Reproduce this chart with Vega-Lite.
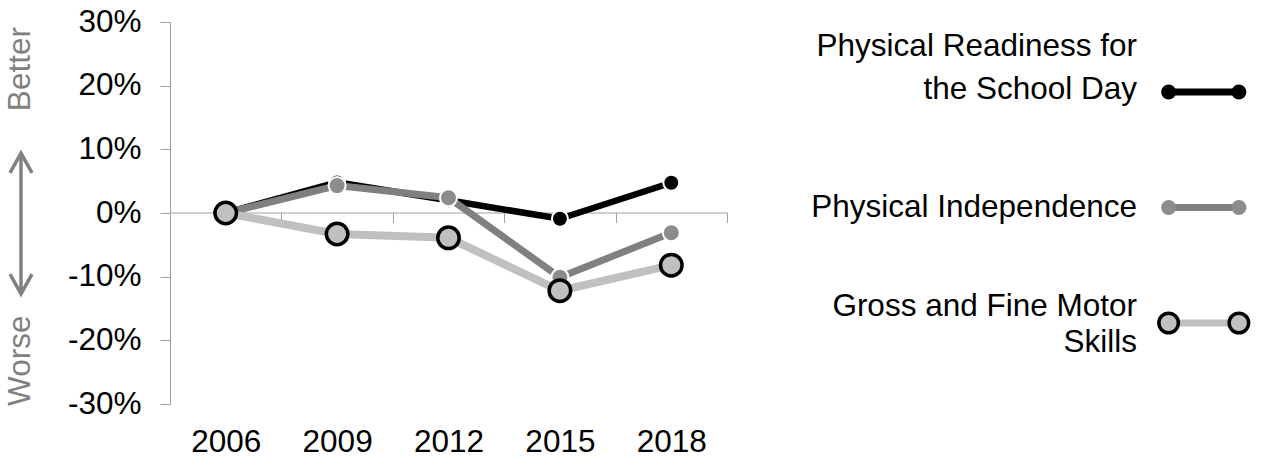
{
  "$schema": "https://vega.github.io/schema/vega-lite/v6.json",
  "background": "white",
  "padding": {"left": 0, "top": 6, "right": 0, "bottom": 0},
  "bounds": "flush",
  "spacing": 20,
  "config": {
    "view": {"stroke": null},
    "font": "Liberation Sans",
    "text": {"font": "Liberation Sans"}
  },
  "datasets": {
    "series": [
      {"series": "Physical Readiness for the School Day", "year": 2006, "value": 0},
      {"series": "Physical Readiness for the School Day", "year": 2009, "value": 4.8},
      {"series": "Physical Readiness for the School Day", "year": 2012, "value": 2.0},
      {"series": "Physical Readiness for the School Day", "year": 2015, "value": -0.9},
      {"series": "Physical Readiness for the School Day", "year": 2018, "value": 4.75},
      {"series": "Physical Independence", "year": 2006, "value": 0},
      {"series": "Physical Independence", "year": 2009, "value": 4.3},
      {"series": "Physical Independence", "year": 2012, "value": 2.4},
      {"series": "Physical Independence", "year": 2015, "value": -10.1},
      {"series": "Physical Independence", "year": 2018, "value": -3.1},
      {"series": "Gross and Fine Motor Skills", "year": 2006, "value": 0},
      {"series": "Gross and Fine Motor Skills", "year": 2009, "value": -3.3},
      {"series": "Gross and Fine Motor Skills", "year": 2012, "value": -3.9},
      {"series": "Gross and Fine Motor Skills", "year": 2015, "value": -12.2},
      {"series": "Gross and Fine Motor Skills", "year": 2018, "value": -8.2}
    ],
    "legend": [
      {"series": "Physical Readiness for the School Day", "label": "Physical Readiness for\nthe School Day", "end": 0},
      {"series": "Physical Readiness for the School Day", "label": "Physical Readiness for\nthe School Day", "end": 1},
      {"series": "Physical Independence", "label": "Physical Independence", "end": 0},
      {"series": "Physical Independence", "label": "Physical Independence", "end": 1},
      {"series": "Gross and Fine Motor Skills", "label": "Gross and Fine Motor\nSkills", "end": 0},
      {"series": "Gross and Fine Motor Skills", "label": "Gross and Fine Motor\nSkills", "end": 1}
    ],
    "notes": [
      {"note": "Better", "level": 22.6},
      {"note": "Worse", "level": -23.2}
    ],
    "arrow": [
      {"top": 9.4, "bottom": -12.7}
    ]
  },
  "hconcat": [
    {
      "width": 150,
      "height": 382,
      "layer": [
        {
          "data": {"name": "notes"},
          "mark": {"type": "text", "angle": 270, "fontSize": 31.5, "color": "#808080", "align": "center", "baseline": "middle"},
          "encoding": {
            "x": {"datum": 0.14, "type": "quantitative", "scale": {"domain": [0, 1]}, "axis": null},
            "y": {"field": "level", "type": "quantitative", "scale": {"domain": [-30, 30], "nice": false, "zero": false}, "axis": null},
            "text": {"field": "note"}
          }
        },
        {
          "data": {"name": "arrow"},
          "mark": {"type": "rule", "color": "#808080", "strokeWidth": 3.5},
          "encoding": {
            "x": {"datum": 0.14, "type": "quantitative"},
            "y": {"field": "top", "type": "quantitative"},
            "y2": {"field": "bottom"}
          }
        },
        {
          "data": {"name": "arrow"},
          "mark": {"type": "point", "shape": "M -1 1.8 L 0 0 L 1 1.8", "filled": false, "stroke": "#808080", "strokeWidth": 3.5, "size": 484, "opacity": 1},
          "encoding": {
            "x": {"datum": 0.14, "type": "quantitative"},
            "y": {"field": "top", "type": "quantitative"}
          }
        },
        {
          "data": {"name": "arrow"},
          "mark": {"type": "point", "shape": "M -1 -1.8 L 0 0 L 1 -1.8", "filled": false, "stroke": "#808080", "strokeWidth": 3.5, "size": 484, "opacity": 1},
          "encoding": {
            "x": {"datum": 0.14, "type": "quantitative"},
            "y": {"field": "bottom", "type": "quantitative"}
          }
        }
      ]
    },
    {
      "width": 557,
      "height": 382,
      "data": {"name": "series"},
      "resolve": {"axis": {"x": "independent"}},
      "layer": [
        {
          "transform": [{"filter": "datum.series === 'Physical Readiness for the School Day'"}],
          "mark": {"type": "line", "color": "#000000", "strokeWidth": 6.5},
          "encoding": {
            "x": {"field": "year", "type": "quantitative", "title": null,
                  "scale": {"domain": [2004.5, 2019.5], "nice": false, "zero": false},
                  "axis": {"orient": "bottom", "values": [2006, 2009, 2012, 2015, 2018], "format": "d", "domain": false, "ticks": false, "tickSize": 0, "grid": false, "labelPadding": 22, "labelFontSize": 31.5, "labelColor": "#000000", "labelFont": "Liberation Sans", "labelFlush": false, "labelOverlap": false}},
            "y": {"field": "value", "type": "quantitative", "title": null,
                  "scale": {"domain": [-30, 30], "nice": false, "zero": false},
                  "axis": {"values": [-30, -20, -10, 0, 10, 20, 30], "labelExpr": "datum.value + '%'", "grid": false, "domainColor": "#a0a0a0", "tickColor": "#a0a0a0", "tickSize": 10, "labelPadding": 19, "labelFontSize": 31.5, "labelColor": "#000000", "labelFont": "Liberation Sans"}}
          }
        },
        {
          "transform": [{"filter": "datum.series === 'Physical Readiness for the School Day'"}],
          "mark": {"type": "point", "filled": true, "fill": "#000000", "stroke": "#ffffff", "strokeWidth": 2, "size": 256, "opacity": 1},
          "encoding": {
            "x": {"field": "year", "type": "quantitative", "title": null,
                  "axis": {"orient": "bottom", "offset": -191.5, "values": [2004.5, 2007.5, 2010.5, 2013.5, 2016.5, 2019.5], "labels": false, "grid": false, "domain": true, "domainColor": "#a0a0a0", "ticks": true, "tickColor": "#a0a0a0", "tickSize": 10}},
            "y": {"field": "value", "type": "quantitative", "title": null}
          }
        },
        {
          "transform": [{"filter": "datum.series === 'Physical Independence'"}],
          "mark": {"type": "line", "color": "#808080", "strokeWidth": 7},
          "encoding": {
            "x": {"field": "year", "type": "quantitative", "title": null, "axis": null},
            "y": {"field": "value", "type": "quantitative", "title": null}
          }
        },
        {
          "transform": [{"filter": "datum.series === 'Physical Independence'"}],
          "mark": {"type": "point", "filled": true, "fill": "#8c8c8c", "stroke": "#ffffff", "strokeWidth": 2, "size": 289, "opacity": 1},
          "encoding": {
            "x": {"field": "year", "type": "quantitative", "title": null, "axis": null},
            "y": {"field": "value", "type": "quantitative", "title": null}
          }
        },
        {
          "transform": [{"filter": "datum.series === 'Gross and Fine Motor Skills'"}],
          "mark": {"type": "line", "color": "#c0c0c0", "strokeWidth": 8},
          "encoding": {
            "x": {"field": "year", "type": "quantitative", "title": null, "axis": null},
            "y": {"field": "value", "type": "quantitative", "title": null}
          }
        },
        {
          "transform": [{"filter": "datum.series === 'Gross and Fine Motor Skills'"}],
          "mark": {"type": "point", "filled": true, "fill": "#c0c0c0", "stroke": "#000000", "strokeWidth": 3.5, "size": 462, "opacity": 1},
          "encoding": {
            "x": {"field": "year", "type": "quantitative", "title": null, "axis": null},
            "y": {"field": "value", "type": "quantitative", "title": null}
          }
        }
      ]
    },
    {
      "width": 520,
      "height": 371,
      "data": {"name": "legend"},
      "encoding": {
        "x": {"field": "end", "type": "quantitative", "scale": {"domain": [-6, 1.4], "nice": false, "zero": false}, "axis": null},
        "y": {"field": "series", "type": "nominal", "scale": {"type": "point", "domain": ["Physical Readiness for the School Day", "Physical Independence", "Gross and Fine Motor Skills"], "padding": 0.606}, "axis": null}
      },
      "layer": [
        {
          "transform": [{"filter": "datum.series === 'Physical Readiness for the School Day'"}],
          "mark": {"type": "line", "color": "#000000", "strokeWidth": 7}
        },
        {
          "transform": [{"filter": "datum.series === 'Physical Readiness for the School Day'"}],
          "mark": {"type": "point", "filled": true, "fill": "#000000", "strokeWidth": 0, "size": 225, "opacity": 1}
        },
        {
          "transform": [{"filter": "datum.series === 'Physical Independence'"}],
          "mark": {"type": "line", "color": "#808080", "strokeWidth": 7}
        },
        {
          "transform": [{"filter": "datum.series === 'Physical Independence'"}],
          "mark": {"type": "point", "filled": true, "fill": "#8c8c8c", "strokeWidth": 0, "size": 225, "opacity": 1}
        },
        {
          "transform": [{"filter": "datum.series === 'Gross and Fine Motor Skills'"}],
          "mark": {"type": "line", "color": "#c0c0c0", "strokeWidth": 7}
        },
        {
          "transform": [{"filter": "datum.series === 'Gross and Fine Motor Skills'"}],
          "mark": {"type": "point", "filled": true, "fill": "#c0c0c0", "stroke": "#000000", "strokeWidth": 3.5, "size": 380, "opacity": 1}
        },
        {
          "transform": [{"filter": "datum.end === 0 && datum.series === 'Physical Readiness for the School Day'"}],
          "mark": {"type": "text", "align": "right", "baseline": "middle", "fontSize": 31.5, "color": "#000000", "lineBreak": "\n", "lineHeight": 43, "dy": -45},
          "encoding": {"x": {"datum": -0.45, "type": "quantitative"}, "text": {"field": "label"}}
        },
        {
          "transform": [{"filter": "datum.end === 0 && datum.series === 'Physical Independence'"}],
          "mark": {"type": "text", "align": "right", "baseline": "middle", "fontSize": 31.5, "color": "#000000", "dy": 0},
          "encoding": {"x": {"datum": -0.45, "type": "quantitative"}, "text": {"field": "label"}}
        },
        {
          "transform": [{"filter": "datum.end === 0 && datum.series === 'Gross and Fine Motor Skills'"}],
          "mark": {"type": "text", "align": "right", "baseline": "middle", "fontSize": 31.5, "color": "#000000", "lineBreak": "\n", "lineHeight": 36, "dy": -16},
          "encoding": {"x": {"datum": -0.45, "type": "quantitative"}, "text": {"field": "label"}}
        }
      ]
    }
  ]
}
